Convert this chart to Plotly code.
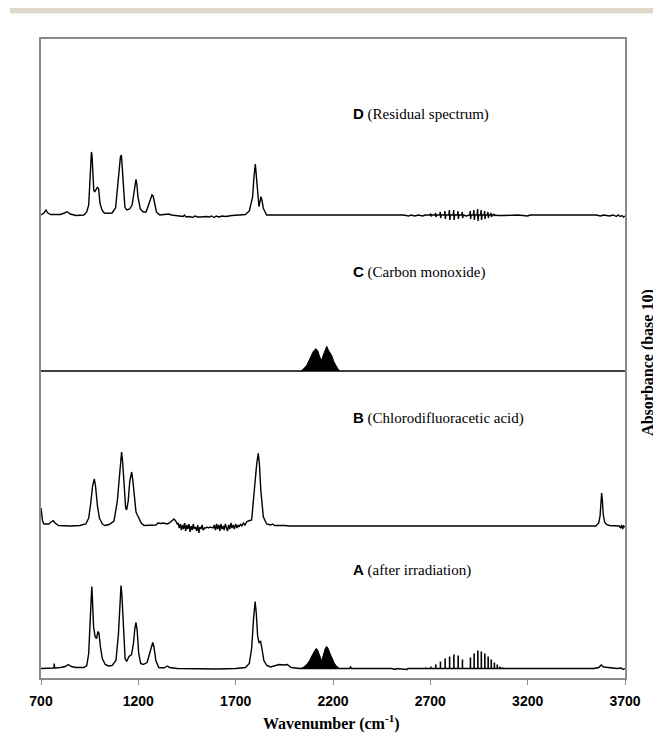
import plotly.graph_objects as go

# ---------------- data (wavenumber cm-1, absorbance in arbitrary units) ----------------
# Spectrum A (after irradiation)
a_wn = [700, 740, 766, 768, 770, 800, 825, 840, 855, 880, 920, 935, 945, 952, 958, 961, 964, 970, 978, 985,
        993, 998, 1005, 1015, 1030, 1046, 1065, 1085, 1098, 1106, 1111, 1116, 1124, 1132, 1140, 1152, 1165,
        1175, 1182, 1188, 1194, 1202, 1212, 1225, 1245, 1258, 1268, 1274, 1280, 1290, 1305, 1330, 1350, 1360,
        1400, 1500, 1600, 1700, 1750, 1770, 1782, 1792, 1800, 1806, 1813, 1820, 1828, 1835, 1845, 1860, 1880,
        1905, 1925, 1945, 1965, 1985, 2030, 2230, 2285, 2290, 2295, 2500, 2520, 2525, 2580, 2585, 3100, 3540,
        3565, 3578, 3590, 3610, 3640, 3660, 3680, 3690, 3700]
a_abs = [0, 0.5, 0.5, 5, 0.5, 1, 2, 4, 2, 1, 1, 3, 15, 45, 75, 82, 70, 42, 32, 30,
         37, 35, 22, 10, 4, 2.5, 3, 8, 35, 70, 83, 72, 35, 10, 7, 12, 14,
         25, 40, 46, 38, 15, 5, 4, 6, 15, 24, 26, 22, 8, 1, 0.5, 2.5, 1,
         0, -0.5, -0.5, 0, 1, 5, 20, 50, 67, 55, 32, 26, 27, 20, 8, 3, 1.5,
         3, 4, 3.5, 4, 1, 0, 0, 0, 1.5, 0, 0, -1, 0, -1, 0, 0, 0,
         1, 3.5, 1.5, 1, 0.5, 0, 0.5, -1, 0]
# CO band envelope in A
a_co_wn = [2035, 2050, 2065, 2080, 2095, 2105, 2113, 2120, 2130, 2138, 2143, 2148, 2155, 2162, 2168, 2175,
           2185, 2195, 2205, 2215, 2225, 2232]
a_co_abs = [0, 1.5, 4, 8, 14, 18, 20, 19, 14, 9, 7, 12, 18, 21, 22, 20, 15, 10, 6, 3, 1, 0]
# HCl rotational lines in A
a_hcl_wn = [2677, 2703, 2728, 2752, 2776, 2799, 2821, 2843, 2865,
            2906, 2925, 2944, 2962, 2980, 2997, 3013, 3029, 3044, 3058, 3072]
a_hcl_abs = [1, 2, 4, 7, 10, 12, 14, 13, 9,
             11, 15, 18, 17, 15, 12, 9, 6, 4, 2, 1]

# Spectrum B (chlorodifluoroacetic acid)
b_wn = [700, 703, 708, 715, 740, 755, 763, 772, 790, 850, 900, 930, 945, 955, 965, 974, 980, 990, 1000, 1015,
        1029, 1050, 1075, 1092, 1102, 1110, 1114, 1119, 1128, 1135, 1140, 1148, 1156, 1162, 1166, 1172, 1180,
        1188, 1195, 1203, 1215, 1229, 1260, 1290, 1301, 1315, 1330, 1347, 1360, 1375, 1383, 1392, 1400,
        1405, 1410, 1416, 1421, 1427, 1432, 1438, 1443, 1449, 1454, 1460, 1466, 1471, 1477, 1482, 1488, 1494,
        1500, 1505, 1511, 1516, 1522, 1528, 1533, 1540, 1546, 1552, 1560, 1568, 1576, 1584, 1590, 1596, 1602,
        1607, 1613, 1619, 1624, 1630, 1636, 1641, 1647, 1652, 1658, 1664, 1670, 1676, 1681, 1687, 1693, 1700,
        1706, 1712, 1718, 1725, 1732, 1740, 1748, 1756, 1765, 1782, 1799, 1808, 1816, 1822, 1829, 1836, 1842,
        1859, 1880, 1890, 1900, 1950, 1980, 3550, 3565, 3572, 3577, 3580, 3584, 3588, 3595, 3605, 3620, 3650,
        3670, 3678, 3683, 3688, 3693, 3700]
b_abs = [18, 12, 5, 2, 2, 4.5, 5.3, 3, 0.5, 0, 0.5, 2, 8, 22, 40, 47, 40, 20, 8, 2,
         0.5, 1.5, 5, 25, 50, 70, 74, 65, 35, 18, 16, 25, 45, 52, 54, 45, 25,
         14, 11, 8, 3, 0.5, 0.5, 1, 3, 2.5, 3, 2, 3, 6, 7, 5, 2,
         3, -2, 2, -4, 1, -3, 3, -5, 1, -3, 2, -6, 0, -4, 2, -3, -1,
         -5, 1, -7, -1, -3, 1, -4, -2, -2, -1, -2, -1, -1.5, -2, 1, -4, 2,
         -3, 1, -5, 2, -3, 0, -4, 2, -2, -5, 1, -3, 3, -2, 1, -3, 2,
         -2, 1, -1, 2, 0, 3, 1, 4, 5, 6, 46, 62, 72.7, 62, 36, 20, 9.3,
         2, 1, 2, 0.5, 0.5, 0, 0, 3, 10, 25, 33, 25, 12, 4, 1.5, 0.5, 0,
         0, -2, 1, -3, 0, -1]

# Spectrum C (carbon monoxide)
c_wn = [700, 2035, 2232, 3700]
c_abs = [0, 0, 0, 0]
c_co_wn = [2035, 2048, 2065, 2080, 2090, 2100, 2113, 2122, 2132, 2142, 2150, 2160, 2168, 2176, 2193,
           2205, 2219, 2232]
c_co_abs = [0, 2, 5.7, 12, 17, 20, 22.3, 20, 14, 10.7, 16, 22, 24.7, 21, 15.7, 9, 4, 0]

# Spectrum D (residual spectrum)
d_wn = [700, 715, 726, 735, 750, 800, 820, 835, 850, 880, 920, 935, 945, 950, 955, 959, 962, 966, 971, 976,
        982, 990, 996, 1003, 1013, 1025, 1045, 1065, 1083, 1093, 1101, 1108, 1113, 1118, 1124, 1131, 1140,
        1155, 1168, 1177, 1183, 1188, 1193, 1198, 1210, 1225, 1240, 1255, 1265, 1270, 1276, 1285, 1293, 1310,
        1340, 1355, 1370, 1400, 1430, 1437, 1445, 1460, 1480, 1490, 1505, 1520, 1535, 1550, 1565, 1575, 1590,
        1600, 1615, 1630, 1650, 1680, 1720, 1750, 1770, 1787, 1794, 1801, 1811, 1820, 1830, 1836, 1842, 1859,
        1870, 2560, 2590, 2600, 2620, 2640, 2660, 2675,
        2699, 2702, 2704, 2707, 2724, 2727, 2729, 2732, 2748, 2751, 2753, 2756, 2772, 2775, 2777, 2780,
        2795, 2798, 2800, 2803, 2817, 2820, 2822, 2825, 2839, 2842, 2844, 2847, 2861, 2864, 2866, 2869,
        2885, 2895,
        2902, 2905, 2907, 2910, 2921, 2924, 2926, 2929, 2940, 2943, 2945, 2948, 2958, 2961, 2963, 2966,
        2976, 2979, 2981, 2984, 2993, 2996, 2998, 3001, 3009, 3012, 3014, 3017, 3025, 3028, 3030, 3033,
        3045, 3080, 3120, 3150, 3200, 3212, 3550, 3575, 3590, 3620,
        3640, 3655, 3665, 3675, 3685, 3692, 3700]
d_abs = [0, 2, 5, 2, 0.5, 0.5, 2, 3.3, 1, -0.5, 0, 3, 10, 28, 52, 63, 60, 38, 25, 23,
         26, 28, 26, 12, 5, 2, 1.7, 2, 7, 25, 45, 58, 60, 48, 25, 8, 5,
         6, 10, 22, 32, 35.7, 30, 18, 6, 3, 3, 12, 18, 20, 19, 10, 3, 0,
         0.5, 1, 0, -1, -1.5, 0, -2, -1.5, -2.5, -1, -2, -2, -1.5, -1.5, -2, -1, -2.5,
         -1, -2, -1, -1.5, -0.5, 0, 0.5, 4, 18, 38, 51, 28, 8.3, 18.3, 14, 6.7, 0,
         0, 0, -1, 0, -1, 0, -1, 0,
         0, 1.5, -1.5, 0, 0, 2, -2, 0, 0, 3, -3, 0, 0, 4, -4, 0,
         0, 5, -5, 0, 0, 5, -5, 0, 0, 4, -4, 0, 0, 3, -3, 0,
         -1, 0,
         0, 4, -4, 0, 0, 5, -5, 0, 0, 6, -6, 0, 0, 5, -5, 0,
         0, 4, -4, 0, 0, 3, -3, 0, 0, 2, -2, 0, 0, 1, -1, 0,
         -0.5, -0.5, -0.5, 0, -1, 0, 0, -1, 0, -1,
         0, -1.5, 0, -1.5, -0.5, -2, -1]

# vertical offsets of the stacked spectra
offsets = {"A": 9.5, "B": 152, "C": 307, "D": 463}

labels = {"A": "after irradiation", "B": "Chlorodifluoracetic acid",
          "C": "Carbon monoxide", "D": "Residual spectrum"}
label_y = {"A": 108, "B": 260, "C": 406, "D": 564}
x_ticks = [700, 1200, 1700, 2200, 2700, 3200, 3700]

# ---------------- figure ----------------
fig = go.Figure()
line = dict(color="black", width=1.4)


def shifted(vals, off):
    return [v + off for v in vals]


for wn, ab, key in [(a_wn, a_abs, "A"), (b_wn, b_abs, "B"), (c_wn, c_abs, "C"), (d_wn, d_abs, "D")]:
    fig.add_trace(go.Scatter(x=wn, y=shifted(ab, offsets[key]), mode="lines", line=line,
                             showlegend=False, hoverinfo="skip"))

for wn, ab, key in [(a_co_wn, a_co_abs, "A"), (c_co_wn, c_co_abs, "C")]:
    fig.add_trace(go.Scatter(x=wn, y=shifted(ab, offsets[key]), mode="lines", fill="toself",
                             fillcolor="black", line=dict(color="black", width=1),
                             showlegend=False, hoverinfo="skip"))

# HCl lines in A as stems
sx, sy = [], []
for p, h in zip(a_hcl_wn, a_hcl_abs):
    sx += [p, p, None]
    sy += [offsets["A"], offsets["A"] + h, None]
fig.add_trace(go.Scatter(x=sx, y=sy, mode="lines", line=dict(color="black", width=1.6),
                         showlegend=False, hoverinfo="skip"))

serif = "Liberation Serif, Times New Roman, serif"
for key in ["D", "C", "B", "A"]:
    fig.add_annotation(
        x=2292, y=label_y[key], xref="x", yref="y", xanchor="left", yanchor="middle", showarrow=False,
        text=f"<span style=\"font-family:Arial;font-weight:bold\">{key}</span> ({labels[key]})",
        font=dict(family=serif, size=15, color="black"))

fig.add_annotation(x=1.058, y=0.4945, xref="paper", yref="paper", showarrow=False, textangle=-90,
                   xanchor="right", yanchor="middle",
                   text="<b>Absorbance (base 10)</b>",
                   font=dict(family=serif, size=16, color="black"))
fig.add_annotation(x=0.498, y=-0.069, xref="paper", yref="paper", showarrow=False,
                   xanchor="center", yanchor="middle",
                   text="<b>Wavenumber (cm<sup>-1</sup>)</b>",
                   font=dict(family=serif, size=16, color="black"))

fig.add_shape(type="rect", xref="paper", yref="paper", x0=-0.053, x1=1.07, y0=1.0399, y1=1.0485,
              fillcolor="#e0d9c9", line=dict(width=0), layer="above")

# the page body adds an 8 px margin, so the figure is 8 px smaller and shifted accordingly
fig.update_layout(
    width=653, height=733,
    margin=dict(l=33, r=36, t=31, b=63),
    paper_bgcolor="white", plot_bgcolor="white",
    xaxis=dict(range=[700, 3700], tickvals=x_ticks, ticktext=[str(t) for t in x_ticks],
               showgrid=False, zeroline=False, showline=True, mirror=True,
               linecolor="#8a8a8a", linewidth=1.5, ticks="outside", ticklen=5, tickcolor="#8a8a8a",
               ticklabelstandoff=4,
               tickfont=dict(family="Liberation Sans, Arial, sans-serif", size=14, color="black",
                             weight="bold")),
    yaxis=dict(range=[0, 639], showgrid=False, zeroline=False, showline=True, mirror=True,
               linecolor="#8a8a8a", linewidth=1.5, showticklabels=False, ticks=""),
)

fig.write_html("out.html")
